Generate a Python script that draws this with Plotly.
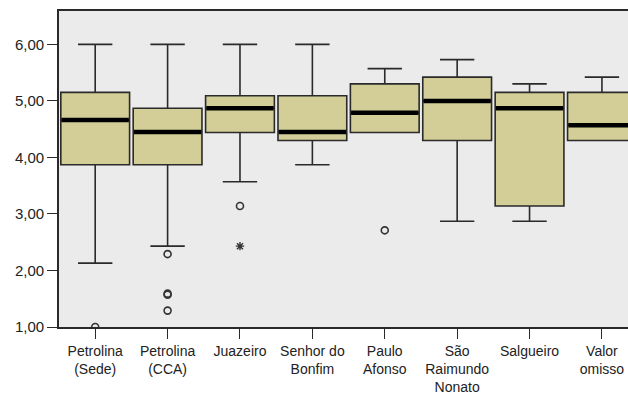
import plotly.graph_objects as go

categories = ["Petrolina<br>(Sede)", "Petrolina<br>(CCA)", "Juazeiro", "Senhor do<br>Bonfim",
              "Paulo<br>Afonso", "São<br>Raimundo<br>Nonato", "Salgueiro", "Valor<br>omisso"]
lower_whisker = [2.13, 2.43, 3.57, 3.87, 4.44, 2.87, 2.87, 4.30]
q1 = [3.87, 3.87, 4.44, 4.30, 4.44, 4.30, 3.14, 4.30]
median = [4.66, 4.45, 4.87, 4.45, 4.79, 5.00, 4.87, 4.57]
q3 = [5.15, 4.87, 5.09, 5.09, 5.30, 5.42, 5.15, 5.15]
upper_whisker = [6.00, 6.00, 6.00, 6.00, 5.57, 5.73, 5.30, 5.42]

# outliers (circles) and extremes (stars): category index, value
outlier_cat = [0, 1, 1, 1, 1, 2, 4]
outlier_val = [1.00, 2.29, 1.57, 1.59, 1.29, 3.14, 2.71]
extreme_cat = [2]
extreme_val = [2.43]

y_ticks = [1, 2, 3, 4, 5, 6]

positions = list(range(len(categories)))
box_w = 0.95
edge = "#2a2a2a"
fill = "#D3CE97"

fig = go.Figure()
fig.add_trace(go.Box(
    x=positions, q1=q1, median=median, q3=q3,
    lowerfence=lower_whisker, upperfence=upper_whisker,
    width=box_w, whiskerwidth=0.5, boxpoints=False,
    fillcolor=fill, line=dict(color=edge, width=1.6),
    showlegend=False, hoverinfo="skip"))

mx, my = [], []
for p, m in zip(positions, median):
    mx += [p - box_w / 2 + 0.01, p + box_w / 2 - 0.01, None]
    my += [m, m, None]
fig.add_trace(go.Scatter(x=mx, y=my, mode="lines",
                         line=dict(color="black", width=4.5),
                         showlegend=False, hoverinfo="skip"))

fig.add_trace(go.Scatter(x=outlier_cat, y=outlier_val, mode="markers",
                         marker=dict(symbol="circle-open", size=7, color="#333333",
                                     line=dict(width=1.6)),
                         showlegend=False, hoverinfo="skip"))
fig.add_trace(go.Scatter(x=extreme_cat, y=extreme_val, mode="markers",
                         marker=dict(symbol="asterisk-open", size=7, color="#333333",
                                     line=dict(width=1.4)),
                         showlegend=False, hoverinfo="skip"))

fig.update_layout(
    width=628, height=394,
    margin=dict(l=59, r=0, t=11, b=67, autoexpand=False),
    paper_bgcolor="white", plot_bgcolor="#EBEBEB",
    separators=",.",
    font=dict(family="Liberation Sans, Arial, sans-serif", size=14, color="#222222"),
)
fig.update_xaxes(
    range=[-0.5, 7.36], tickmode="array", tickvals=positions, ticktext=categories,
    showgrid=False, zeroline=False, showline=True, linecolor=edge, linewidth=1.6,
    mirror=True, ticks="outside", ticklen=10, tickcolor=edge, tickwidth=1.4,
    tickangle=0, automargin=False)
fig.update_yaxes(
    range=[1, 6.59], tickmode="array", tickvals=y_ticks, tickformat=".2f",
    showgrid=False, zeroline=False, showline=True, linecolor=edge, linewidth=1.6,
    ticks="outside", ticklen=10, tickcolor=edge, tickwidth=1.4,
    tickfont=dict(size=15), automargin=False)

fig.write_html("out.html", config={"displayModeBar": False},
               post_script="document.body.style.margin='0';document.body.style.overflow='hidden';")
